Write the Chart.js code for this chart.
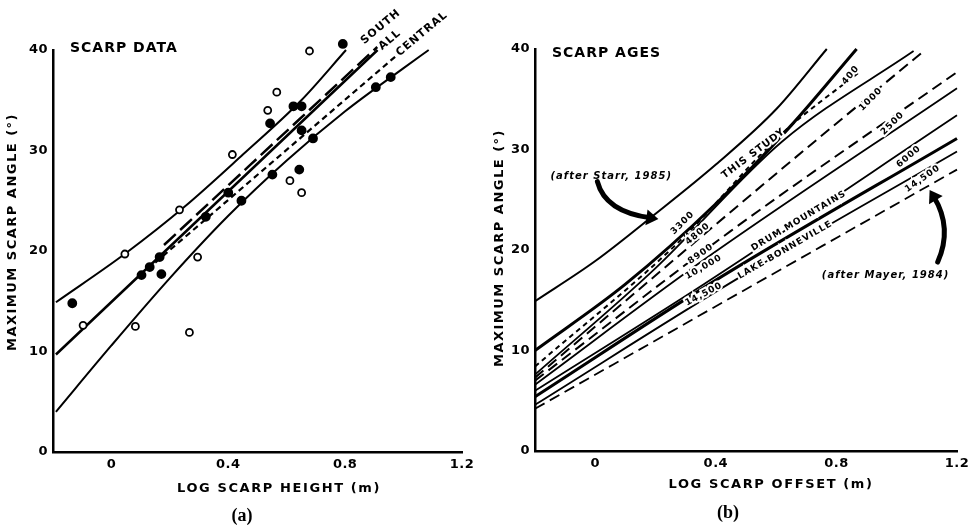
<!DOCTYPE html>
<html>
<head>
<meta charset="utf-8">
<script src="https://cdn.jsdelivr.net/npm/chart.js@4.4.0/dist/chart.umd.min.js"></script>
<style>
body { margin: 0; background: #fff; }
#wrap { position: relative; width: 975px; height: 529px; }
canvas { position: absolute; top: 0; }
</style>
</head>
<body>
<div id="wrap">
  <canvas id="chartA" width="487" height="529" style="left:0"></canvas>
  <canvas id="chartB" width="488" height="529" style="left:487px"></canvas>
</div>
<script>
// ---- panel (a): scarp data ----
var openPts = [[0.678,39.9],[0.566,35.8],[0.535,34.0],[0.414,29.6],[0.611,27.0],[0.651,25.8],
  [0.233,24.1],[0.046,19.7],[0.295,19.4],[0.082,12.5],[0.267,11.9],[-0.097,12.6]];
var filledPts = [[0.792,40.6],[0.543,32.7],[0.623,34.4],[0.651,34.4],[0.651,32.0],[0.69,31.2],
  [0.643,28.1],[0.551,27.6],[0.445,25.0],[0.40,25.8],[0.323,23.4],[0.905,36.3],[0.956,37.3],
  [-0.134,14.8],[0.103,17.6],[0.171,17.7],[0.131,18.4],[0.165,19.4]];
var upperBand = [[-0.19,14.9],[0.05,19.8],[0.25,24.4],[0.45,29.6],[0.65,35.0],[0.803,40.0]];
var lowerBand = [[-0.19,4.0],[0,10.6],[0.2,17.3],[0.4,23.5],[0.6,29.0],[0.8,33.9],[1.0,38.2],[1.086,40.0]];
var allFit = [[-0.19,9.7],[0.911,40.0]];
var southFit = [[0.18,20.6],[0.91,40.3]];
var centralFit = [[0.15,18.85],[0.978,39.5]];

// ---- panel (b): scarp ages ----
var starr = [[-0.2,14.9],[0,18.9],[0.2,23.6],[0.4,28.5],[0.6,34.0],[0.768,40]];
var studyTop = [[-0.2,10.0],[0.1,16.6],[0.4,24.6],[0.65,32.4],[0.867,40]];
var age3300 = [[-0.2,8.4],[0.27,20.6],[0.62,31.6],[0.88,37.8]];
var studyLow = [[-0.2,7.6],[0.2,18.2],[0.62,30.8],[1.056,39.8]];
var age4800 = [[-0.2,7.3],[0.62,28.1],[1.09,39.8]];
var age8900 = [[-0.2,7.0],[0.45,21.9],[1.2,37.7]];
var age10000 = [[-0.2,6.6],[0.35,18.8],[1.2,36.1]];
var drum = [[-0.2,6.0],[0.36,16.6],[1.2,33.4]];
var mayer6000 = [[-0.2,5.4],[0.4,17.0],[1.2,31.1]];
var bonneville = [[-0.2,4.6],[0.48,17.3],[1.2,29.8]];
var mayer14500 = [[-0.2,4.2],[1.2,28.0]];

var xTicks = [0, 0.4, 0.8, 1.2];
var yTicks = [0, 10, 20, 30, 40];

Chart.defaults.font.family = "'DejaVu Sans', sans-serif";
Chart.defaults.font.weight = 'bold';
Chart.defaults.color = '#000';

function curve(data, width, dash) {
  return { data: data, showLine: true, borderColor: '#000', borderWidth: width,
    borderDash: dash || [], pointRadius: 0, cubicInterpolationMode: 'monotone', clip: false };
}

// free text and arrows, placed with the chart's own scales
var notes = {
  id: 'notes',
  beforeDraw: function (chart) { chart.ctx.letterSpacing = '0.5px'; },
  afterDatasetsDraw: function (chart, args, opts) {
    var ctx = chart.ctx, xs = chart.scales.x, ys = chart.scales.y;
    (opts.arrows || []).forEach(function (a) {
      var p = a.map(function (q) { return [xs.getPixelForValue(q[0]), ys.getPixelForValue(q[1])]; });
      ctx.save();
      ctx.strokeStyle = '#000'; ctx.lineWidth = 5; ctx.lineCap = 'round';
      ctx.beginPath(); ctx.moveTo(p[0][0], p[0][1]);
      ctx.quadraticCurveTo(p[1][0], p[1][1], p[2][0], p[2][1]); ctx.stroke();
      var dx = p[2][0] - p[1][0], dy = p[2][1] - p[1][1], l = Math.hypot(dx, dy);
      dx /= l; dy /= l;
      var tx = p[2][0] + dx * 8, ty = p[2][1] + dy * 8;
      ctx.fillStyle = '#000'; ctx.beginPath();
      ctx.moveTo(tx, ty);
      ctx.lineTo(p[2][0] - dx * 4 - dy * 8, p[2][1] - dy * 4 + dx * 8);
      ctx.lineTo(p[2][0] - dx * 4 + dy * 8, p[2][1] - dy * 4 - dx * 8);
      ctx.closePath(); ctx.fill();
      ctx.restore();
    });
    (opts.texts || []).forEach(function (t) {
      var px = t.px ? t.px[0] : xs.getPixelForValue(t.at[0]);
      var py = t.px ? t.px[1] : ys.getPixelForValue(t.at[1]);
      ctx.save();
      ctx.translate(px, py);
      ctx.rotate(-(t.angle || 0) * Math.PI / 180);
      ctx.font = t.font || "bold 10px 'DejaVu Sans'";
      ctx.letterSpacing = t.spacing || '1px';
      ctx.textAlign = t.align || 'center';
      ctx.textBaseline = 'middle';
      if (t.halo) { ctx.lineWidth = 4; ctx.strokeStyle = '#fff'; ctx.strokeText(t.text, 0, 0); }
      ctx.fillStyle = '#000';
      ctx.fillText(t.text, 0, 0);
      ctx.restore();
    });
  }
};

function scales(yWidth, xHeight) {
  return {
    x: { type: 'linear', min: -0.2, max: 1.2,
      grid: { display: false, drawTicks: false }, border: { display: true, color: '#000', width: 2.5 },
      ticks: { stepSize: 0.2, padding: 5, font: { size: 13, weight: 'bold' }, maxRotation: 0,
        callback: function (v) {
          var r = Math.round(v * 10);
          if (xTicks.indexOf(r / 10) < 0) return '';
          return r === 0 ? '0' : (r / 10).toFixed(1);
        } },
      afterFit: function (s) { s.height = xHeight; } },
    y: { type: 'linear', min: 0, max: 40,
      grid: { display: false, drawTicks: false }, border: { display: true, color: '#000', width: 2.5 },
      ticks: { stepSize: 10, padding: 5, font: { size: 13, weight: 'bold' },
        callback: function (v) { return yTicks.indexOf(v) < 0 ? '' : String(v); } },
      afterFit: function (s) { s.width = yWidth; } }
  };
}

var titleFont = "bold 13px 'DejaVu Sans'";
var panelFont = "bold 18px 'Liberation Serif'";

new Chart(document.getElementById('chartA'), {
  type: 'scatter',
  data: { datasets: [
    { data: filledPts, pointRadius: 3.6, pointBorderWidth: 2.6, pointBackgroundColor: '#000', pointBorderColor: '#000', clip: false },
    { data: openPts, pointRadius: 3.5, pointBorderWidth: 1.8, pointBackgroundColor: '#fff', pointBorderColor: '#000', clip: false },
    curve(upperBand, 2),
    curve(lowerBand, 2),
    curve(allFit, 2.5),
    curve(southFit, 2.5, [16, 6]),
    curve(centralFit, 2.2, [6, 4])
  ] },
  options: {
    responsive: false, animation: false,
    layout: { padding: { left: 0, top: 50, right: 25, bottom: 0 } },
    scales: scales(53, 77),
    plugins: { legend: { display: false }, tooltip: { enabled: false },
      notes: {
        texts: [
          { px: [70, 48], text: 'SCARP DATA', font: "bold 14px 'DejaVu Sans'", align: 'left' },
          { px: [13, 232], text: 'MAXIMUM SCARP ANGLE (°)', font: titleFont, angle: 90, spacing: '1.5px' },
          { px: [279, 489], text: 'LOG SCARP HEIGHT (m)', font: titleFont, spacing: '1.6px' },
          { px: [242, 516], text: '(a)', font: panelFont, spacing: '0px' },
          { at: [0.922, 42.3], text: 'SOUTH', angle: 40, font: "bold 11px 'DejaVu Sans'" },
          { at: [0.953, 41.0], text: 'ALL', angle: 40, font: "bold 11px 'DejaVu Sans'" },
          { at: [1.063, 41.6], text: 'CENTRAL', angle: 40, font: "bold 11px 'DejaVu Sans'" }
        ]
      } }
  },
  plugins: [notes]
});

var small = "bold 9px 'DejaVu Sans'";
new Chart(document.getElementById('chartB'), {
  type: 'scatter',
  data: { datasets: [
    curve(starr, 2),
    curve(studyTop, 3),
    curve(age3300, 2, [5, 4]),
    curve(studyLow, 1.8),
    curve(age4800, 2, [11, 6]),
    curve(age8900, 2, [11, 6]),
    curve(age10000, 1.8),
    curve(drum, 1.8),
    curve(mayer6000, 3),
    curve(bonneville, 1.8),
    curve(mayer14500, 1.8, [11, 6])
  ] },
  options: {
    responsive: false, animation: false,
    layout: { padding: { left: 0, top: 49, right: 18, bottom: 0 } },
    scales: scales(48, 78),
    plugins: { legend: { display: false }, tooltip: { enabled: false },
      notes: {
        arrows: [
          [[0.007, 26.8], [0.033, 23.8], [0.183, 23.2]],
          [[1.136, 18.8], [1.186, 22.2], [1.123, 25.3]]
        ],
        texts: [
          { px: [65, 53], text: 'SCARP AGES', font: "bold 14px 'DejaVu Sans'", align: 'left' },
          { px: [13, 248], text: 'MAXIMUM SCARP ANGLE (°)', font: titleFont, angle: 90, spacing: '1.5px' },
          { px: [284, 485], text: 'LOG SCARP OFFSET (m)', font: titleFont, spacing: '1.6px' },
          { px: [241, 513], text: '(b)', font: panelFont, spacing: '0px' },
          { at: [0.053, 27.3], text: '(after Starr, 1985)', font: "italic bold 10px 'DejaVu Sans'" },
          { at: [0.963, 17.5], text: '(after Mayer, 1984)', font: "italic bold 10px 'DejaVu Sans'" },
          { at: [0.525, 29.6], text: 'THIS STUDY', angle: 37, font: "bold 10px 'DejaVu Sans'", halo: true },
          { at: [0.29, 22.7], text: '3300', angle: 45, font: small, halo: true },
          { at: [0.34, 21.6], text: '4800', angle: 40, font: small, halo: true },
          { at: [0.35, 19.6], text: '8900', angle: 35, font: small, halo: true },
          { at: [0.36, 18.3], text: '10,000', angle: 30, font: small, halo: true },
          { at: [0.36, 15.6], text: '14,500', angle: 28, font: small, halo: true },
          { at: [0.847, 37.4], text: '400', angle: 50, font: small, halo: true },
          { at: [0.914, 35.0], text: '1000', angle: 45, font: small, halo: true },
          { at: [0.986, 32.6], text: '2500', angle: 45, font: small, halo: true },
          { at: [1.04, 29.3], text: '6000', angle: 40, font: small, halo: true },
          { at: [1.086, 27.1], text: '14,500', angle: 35, font: small, halo: true },
          { at: [0.675, 22.9], text: 'DRUM MOUNTAINS', angle: 31, font: small, halo: true },
          { at: [0.63, 20.0], text: 'LAKE BONNEVILLE', angle: 30, font: small, halo: true }
        ]
      } }
  },
  plugins: [notes]
});
</script>
</body>
</html>
